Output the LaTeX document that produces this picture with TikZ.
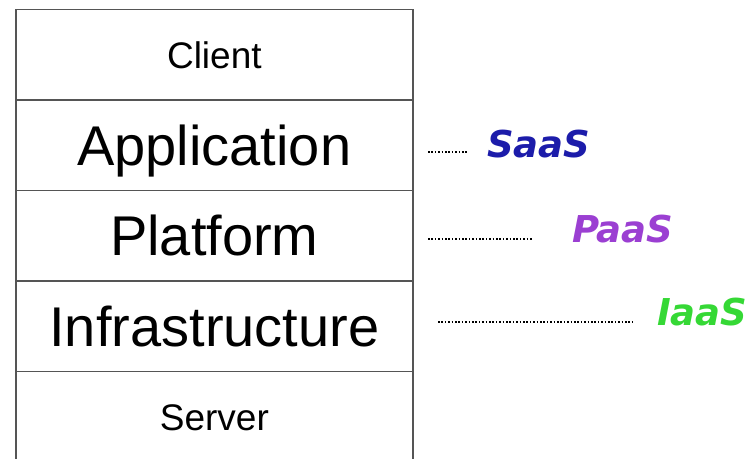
\documentclass[tikz,border=0pt]{standalone}
\usepackage{fontspec}
\setmainfont{Liberation Sans}
\newfontfamily\servicefont{DejaVu Sans}
\usetikzlibrary{positioning}
\definecolor{layergray}{HTML}{555555}
\definecolor{saasblue}{HTML}{1C1CAA}
\definecolor{paaspurple}{HTML}{9B3FD2}
\definecolor{iaasgreen}{HTML}{35D835}
\tikzset{
 layer/.style={draw=layergray,line width=1.8pt,minimum width=396.7pt,minimum height=90.5pt,
  inner sep=0pt,outer sep=0pt,text depth=0pt},
 biglayer/.style={layer,font=\fontsize{56}{60}\selectfont,text height=40pt},
 smalllayer/.style={layer,font=\fontsize{37}{40}\selectfont,text height=26.5pt},
 service/.style={inner sep=0pt,anchor=base west,font=\servicefont\bfseries\itshape\fontsize{37}{40}\selectfont},
 leader/.style={line width=1.3pt,dash pattern=on 1.6pt off 1.8pt}
}
\begin{document}
\begin{tikzpicture}[x=1pt,y=-1pt]
 \useasboundingbox (0,0) rectangle (755,458);
 % the layer stack
 \node[smalllayer,anchor=north] (client) at (214.35,9.5) {Client};
 \node[biglayer,below=0pt of client] (app) {Application};
 \node[biglayer,below=0pt of app] (platform) {Platform};
 \node[biglayer,below=0pt of platform] (infra) {Infrastructure};
 \node[smalllayer,below=0pt of infra] (server) {Server};
 % service models
 \node[service,text=saasblue] (saas) at (487,157) {SaaS};
 \node[service,text=paaspurple] (paas) at (572,242) {PaaS};
 \node[service,text=iaasgreen] (iaas) at (657,325) {IaaS};
 \coordinate (saasdot) at (428,152);
 \coordinate (paasdot) at (428,239);
 \coordinate (iaasdot) at (438,322);
 \foreach \s/\gap in {saas/20,paas/40,iaas/22}
 \draw[leader,shorten >=\gap pt] (\s dot) -- (\s dot -| \s.west);
\end{tikzpicture}
\end{document}
